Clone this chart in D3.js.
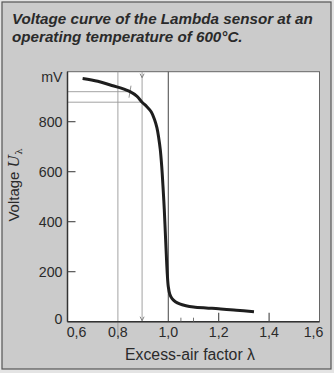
<!DOCTYPE html>
<html><head><meta charset="utf-8">
<script src="https://cdn.jsdelivr.net/npm/d3@7"></script>
<style>html,body{margin:0;padding:0;background:#e4e4e4;}svg{display:block;font-family:"Liberation Sans",Arial,sans-serif;}</style>
</head><body>
<svg id="c" width="334" height="373"></svg>
<script>
const titleLines = ["Voltage curve of the Lambda sensor at an", "operating temperature of 600°C."];
const xTicks = [0.6, 0.8, 1.0, 1.2, 1.4, 1.6];
const xMinorTicks = [1.05, 1.1];
const yTicks = [0, 200, 400, 600, 800];
const lambdaVals = [0.66, 0.72, 0.77, 0.81, 0.848, 0.875, 0.896, 0.915, 0.932, 0.945, 0.955, 0.962, 0.968, 0.974, 0.979, 0.984, 0.988, 0.992, 0.996, 1.0, 1.006, 1.015, 1.028, 1.045, 1.07, 1.1, 1.15, 1.2, 1.27, 1.34];
const voltageVals = [973, 962, 947, 935, 920, 902, 878, 860, 840, 810, 775, 735, 690, 620, 540, 450, 360, 270, 190, 140, 110, 92, 80, 71, 64, 59, 55, 52, 46, 40];
const refLambda = [0.8, 0.896, 1.0];
const refVoltage = [920, 878];
const refVoltageEnd = [0.848, 0.896];

const svg = d3.select("#c");
svg.append("rect").attr("x", 2).attr("y", 2).attr("width", 329).attr("height", 367)
  .attr("fill", "#cbcbcb").attr("stroke", "#555").attr("stroke-width", 1.2);

const x = d3.scaleLinear().domain([0.6, 1.6]).range([67.5, 319.5]);
const y = d3.scaleLinear().domain([0, 1000]).range([321.7, 71.7]);

svg.append("rect").attr("x", x(0.6)).attr("y", y(1000)).attr("width", x(1.6) - x(0.6)).attr("height", y(0) - y(1000))
  .attr("fill", "#fff").attr("stroke", "#666").attr("stroke-width", 1);

svg.append("g").selectAll("text").data(titleLines).join("text")
  .attr("x", 12).attr("y", (d, i) => 24 + i * 18)
  .attr("font-size", 15.2).attr("font-weight", "bold").attr("font-style", "italic")
  .attr("fill", "#2a2a2a").text(d => d);

svg.append("g").selectAll("line").data(refLambda).join("line")
  .attr("x1", d => x(d)).attr("x2", d => x(d))
  .attr("y1", y(1000)).attr("y2", (d, i) => i === 0 ? y(0) + 16 : y(0))
  .attr("stroke", (d, i) => i === 2 ? "#555" : "#999").attr("stroke-width", (d, i) => i === 2 ? 1.1 : 0.9);
svg.append("g").selectAll("line").data(refVoltage).join("line")
  .attr("x1", x(0.6)).attr("x2", (d, i) => x(refVoltageEnd[i]))
  .attr("y1", d => y(d)).attr("y2", d => y(d))
  .attr("stroke", "#999").attr("stroke-width", 0.9);
svg.append("line").attr("x1", x(refVoltageEnd[0]) - 1).attr("x2", x(refVoltageEnd[0]) + 1)
  .attr("y1", y(refVoltage[0]) + 6).attr("y2", y(refVoltage[0]) - 6).attr("stroke", "#888").attr("stroke-width", 0.9);
svg.append("path").attr("d", `M${x(0.896) - 2},${y(1000) + 2} L${x(0.896)},${y(1000) + 6} L${x(0.896) + 2},${y(1000) + 2}`)
  .attr("fill", "none").attr("stroke", "#777").attr("stroke-width", 0.9);
svg.append("path").attr("d", `M${x(0.896) - 2},${y(0) - 5} L${x(0.896)},${y(0) - 1} L${x(0.896) + 2},${y(0) - 5}`)
  .attr("fill", "none").attr("stroke", "#777").attr("stroke-width", 0.9);

svg.append("line").attr("x1", x(0.6)).attr("x2", x(0.6)).attr("y1", y(1000)).attr("y2", y(0)).attr("stroke", "#333").attr("stroke-width", 1.5);
svg.append("line").attr("x1", x(0.6)).attr("x2", x(1.6)).attr("y1", y(0)).attr("y2", y(0)).attr("stroke", "#333").attr("stroke-width", 1.5);

svg.append("g").selectAll("line").data(yTicks.filter(d => d > 0)).join("line")
  .attr("x1", x(0.6)).attr("x2", x(0.6) + 8).attr("y1", d => y(d)).attr("y2", d => y(d))
  .attr("stroke", "#444").attr("stroke-width", 1.1);
svg.append("g").selectAll("text").data(yTicks).join("text")
  .attr("x", 62.5).attr("y", d => d === 0 ? y(d) - 3 : y(d)).attr("dy", "0.35em").attr("text-anchor", "end")
  .attr("font-size", 14.2).attr("fill", "#2a2a2a").text(d => d);
svg.append("text").attr("x", 62.5).attr("y", 77).attr("dy", "0.35em").attr("text-anchor", "end")
  .attr("font-size", 14.2).attr("fill", "#2a2a2a").text("mV");

svg.append("g").selectAll("line").data(xTicks.filter(d => d > 1.1 && d < 1.5)).join("line")
  .attr("x1", d => x(d)).attr("x2", d => x(d)).attr("y1", y(0)).attr("y2", y(0) - 9)
  .attr("stroke", "#444").attr("stroke-width", 1.1);
svg.append("g").selectAll("line").data(xMinorTicks).join("line")
  .attr("x1", d => x(d)).attr("x2", d => x(d)).attr("y1", y(0)).attr("y2", y(0) - 4)
  .attr("stroke", "#666").attr("stroke-width", 0.9);
const fmt = d => d3.format(".1f")(d).replace(".", ",");
svg.append("g").selectAll("text").data(xTicks).join("text")
  .attr("x", d => d === 0.6 ? x(d) + 9 : d === 1.6 ? x(d) - 6 : x(d)).attr("y", 337)
  .attr("text-anchor", "middle").attr("font-size", 14.2).attr("fill", "#2a2a2a").text(fmt);

svg.append("text").attr("x", 190).attr("y", 360).attr("text-anchor", "middle")
  .attr("font-size", 15.8).attr("fill", "#2a2a2a").text("Excess-air factor λ");
const yl = svg.append("text").attr("transform", "translate(18.5,185) rotate(-90)").attr("text-anchor", "middle")
  .attr("font-size", 15).attr("fill", "#2a2a2a");
yl.append("tspan").text("Voltage ");
yl.append("tspan").attr("font-family", "'DejaVu Serif',serif").attr("font-style", "italic").text("U");
yl.append("tspan").attr("font-family", "'DejaVu Serif',serif").attr("font-size", 10).attr("dy", 3).text("λ");

const pts = lambdaVals.map((l, i) => [l, voltageVals[i]]);
svg.append("path").datum(pts)
  .attr("d", d3.line().x(d => x(d[0])).y(d => y(d[1])).curve(d3.curveCatmullRom.alpha(0.5)))
  .attr("fill", "none").attr("stroke", "#1e1e1e").attr("stroke-width", 3).attr("stroke-linecap", "butt");
</script>
</body></html>
